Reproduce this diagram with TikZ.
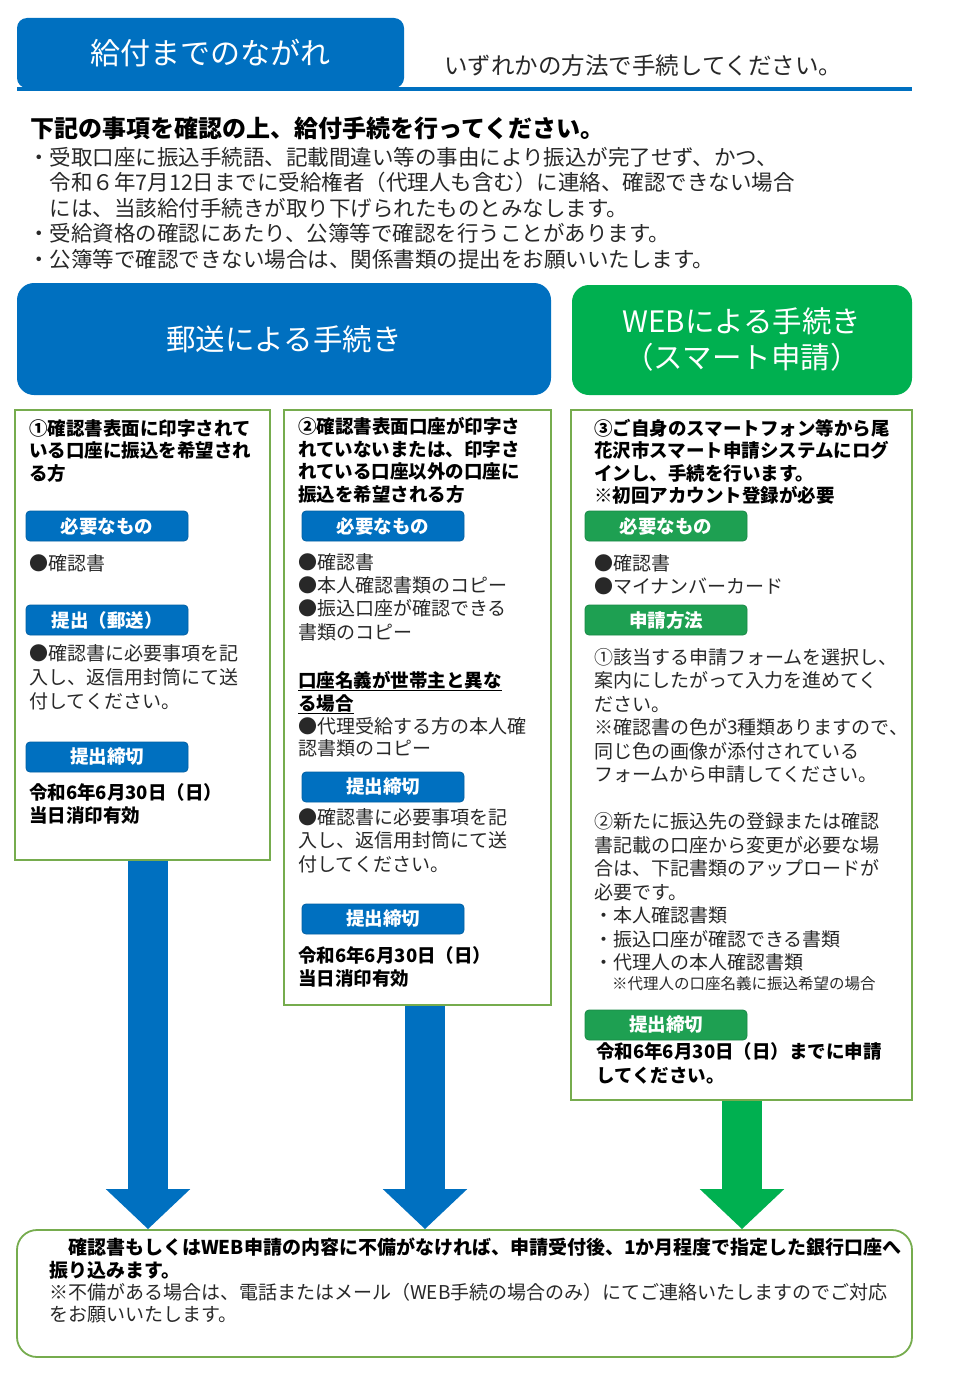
\documentclass[tikz,border=0pt]{standalone}
\usepackage{fontspec}
\setmainfont{Noto Sans CJK JP}
\usepackage{tikz}
\usetikzlibrary{arrows.meta, positioning}

\definecolor{mailblue}{RGB}{0,112,192}
\definecolor{webgreen}{RGB}{0,176,80}
\definecolor{taggreen}{RGB}{30,160,82}
\definecolor{framegreen}{RGB}{118,172,78}
\definecolor{txt}{RGB}{40,40,40}

\begin{document}
\begin{tikzpicture}[
      x=1pt, y=-1pt,
      titletab/.style={fill=mailblue, rounded corners=10pt, text=white,
                       minimum width=387pt, minimum height=70pt,
                       font=\fontsize{30}{36}\selectfont},
      hdr/.style={fill=#1, rounded corners=17pt, text=white, align=center,
                  font=\fontsize{29.5}{36}\selectfont},
      panel/.style={draw=framegreen, line width=1.6pt, inner sep=0pt},
      tagbox/.style={fill=#1, draw=#1!85!black, line width=0.8pt,
                     rounded corners=4pt, minimum width=162pt,
                     minimum height=30pt, inner sep=0pt, text=white,
                     font=\fontsize{18.5}{20}\selectfont\bfseries},
      lead/.style={anchor=base west, align=left, inner sep=0pt, text=black,
                   font=\fontsize{18.5}{#1}\selectfont\bfseries},
      lead/.default=22.4,
      para/.style={anchor=base west, align=left, inner sep=0pt, text=txt,
                   font=\fontsize{19}{#1}\selectfont},
      para/.default=23.4,
      flow/.style={line width=40pt, -{Triangle[width=82pt,length=40pt]}}]

    % page
    \fill[white] (0,0) rectangle (960,1386);
    \useasboundingbox (0,0) rectangle (960,1386);

    % NB: base of a multi-line node = baseline of its last line

    % === title ===
    \node[titletab] (ttl) at (210.5,53) {給付までのながれ};
    \draw[mailblue, line width=4pt] (17,89) -- (912,89);
    \node[anchor=base west, inner sep=0pt, text=txt,
          font=\fontsize{23.5}{28}\selectfont] (sub) at (444,75)
          {いずれかの方法で手続してください。};

    % === notes ===
    \node[lead, font=\fontsize{24}{28}\selectfont\bfseries] (intro) at (30,137)
          {下記の事項を確認の上、給付手続を行ってください。};
    \node[para=25.5, font=\fontsize{21.5}{25.5}\selectfont] (notes) at (28,267)
          {・受取口座に振込手続語、記載間違い等の事由により振込が完了せず、かつ、\\
           　令和６年7月12日までに受給権者（代理人も含む）に連絡、確認できない場合\\
           　には、当該給付手続きが取り下げられたものとみなします。\\
           ・受給資格の確認にあたり、公簿等で確認を行うことがあります。\\
           ・公簿等で確認できない場合は、関係書類の提出をお願いいたします。};

    % === headers ===
    \node[hdr=mailblue, minimum width=534pt, minimum height=112pt] (post)
          at (284,339) {郵送による手続き};
    \node[hdr=webgreen, minimum width=340pt, minimum height=110pt] (web)
          at (742,340) {WEBによる手続き\\（スマート申請）};

    % === panels ===
    \node[panel, minimum width=255pt, minimum height=450pt] (p1) at (142.5,635) {};
    \node[panel, minimum width=267pt, minimum height=595pt] (p2) at (417.5,707.5) {};
    \node[panel, minimum width=341pt, minimum height=690pt] (p3) at (741.5,755) {};

    % panel 1
    \node[lead] (t1) at (29,480)
          {①確認書表面に印字されて\\いる口座に振込を希望され\\る方};
    \node[tagbox=mailblue] (need1) at (107,526) {必要なもの};
    \node[para] (n1) at (29,570) {●確認書};
    \node[tagbox=mailblue] (send1) at (107,620) {提出（郵送）};
    \node[para=24] (n2) at (29,708)
          {●確認書に必要事項を記\\入し、返信用封筒にて送\\付してください。};
    \node[tagbox=mailblue] (due1) at (107,757) {提出締切};
    \node[lead=23] (d1) at (29,822) {令和6年6月30日（日）\\当日消印有効};

    % panel 2
    \node[lead] (t2) at (298,501)
          {②確認書表面口座が印字さ\\れていないまたは、印字さ\\れている口座以外の口座に\\振込を希望される方};
    \node[tagbox=mailblue] (need2) at (383,526) {必要なもの};
    \node[para=23.3] (n3) at (298,639)
          {●確認書\\●本人確認書類のコピー\\●振込口座が確認できる\\書類のコピー};
    \node[lead=23] (u1) at (298,710)
          {\underline{口座名義が世帯主と異な}\\\underline{る場合}};
    \node[para=22.5] (n4) at (298,755.5) {●代理受給する方の本人確\\認書類のコピー};
    \node[tagbox=mailblue] (due2a) at (383,787) {提出締切};
    \node[para=23.5] (n5) at (298,871)
          {●確認書に必要事項を記\\入し、返信用封筒にて送\\付してください。};
    \node[tagbox=mailblue] (due2b) at (383,919) {提出締切};
    \node[lead=23] (d2) at (298,985) {令和6年6月30日（日）\\当日消印有効};

    % panel 3
    \node[lead=22.5] (t3) at (594,502.5)
          {③ご自身のスマートフォン等から尾\\花沢市スマート申請システムにログ\\インし、手続を行います。\\※初回アカウント登録が必要};
    \node[tagbox=taggreen] (need3) at (666,526) {必要なもの};
    \node[para=23] (n6) at (594,593) {●確認書\\●マイナンバーカード};
    \node[tagbox=taggreen] (how3) at (666,620) {申請方法};
    \node[para=23.5] (n7) at (594,969.5)
          {①該当する申請フォームを選択し、\\案内にしたがって入力を進めてく\\ださい。\\
           ※確認書の色が3種類ありますので、\\同じ色の画像が添付されている\\
           フォームから申請してください。\\[23.5pt]
           ②新たに振込先の登録または確認\\書記載の口座から変更が必要な場\\
           合は、下記書類のアップロードが\\必要です。\\
           ・本人確認書類\\・振込口座が確認できる書類\\・代理人の本人確認書類};
    \node[para, font=\fontsize{15.5}{18}\selectfont] (n8) at (612,989)
          {※代理人の口座名義に振込希望の場合};
    \node[tagbox=taggreen] (due3) at (666,1025) {提出締切};
    \node[lead=24] (d3) at (596,1082) {令和6年6月30日（日）までに申請\\してください。};

    % === result ===
    \node[draw=framegreen, line width=1.8pt, rounded corners=20pt,
          minimum width=895pt, minimum height=127pt] (fin) at (464.5,1293.5) {};
    \node[lead=23, font=\fontsize{19}{23}\selectfont\bfseries] (r1) at (49,1277)
          {　確認書もしくはWEB申請の内容に不備がなければ、申請受付後、1か月程度で指定した銀行口座へ\\振り込みます。};
    \node[para=22] (r2) at (49,1321)
          {※不備がある場合は、電話またはメール（WEB手続の場合のみ）にてご連絡いたしますのでご対応\\をお願いいたします。};

    % === flow arrows ===
    \coordinate (a1) at ([xshift=5.5pt]p1.south);
    \coordinate (a2) at ([xshift=7.5pt]p2.south);
    \coordinate (a3) at ([xshift=0.5pt]p3.south);
    \draw[flow, mailblue] (a1) -- (a1 |- fin.north);
    \draw[flow, mailblue] (a2) -- (a2 |- fin.north);
    \draw[flow, webgreen] (a3) -- (a3 |- fin.north);

\end{tikzpicture}
\end{document}
